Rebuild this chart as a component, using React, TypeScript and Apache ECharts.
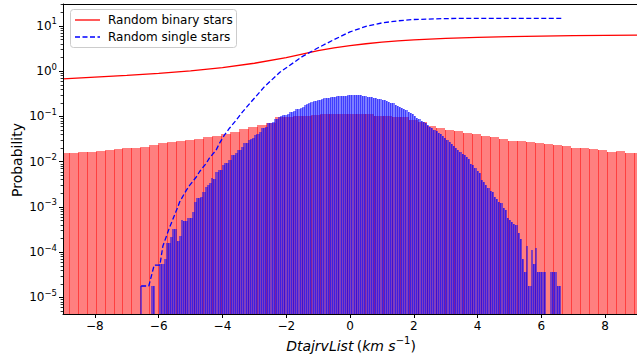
import React, { useEffect, useRef } from 'react';
import * as echarts from 'echarts';

// ---------- data ----------
const X_TICKS = [-8, -6, -4, -2, 0, 2, 4, 6, 8];
const Y_EXPONENTS = [-5, -4, -3, -2, -1, 0, 1];

// red histogram (random binary stars), density per bin
const RED_START = -9.103;
const RED_WIDTH = 0.2812;
const RED_DENSITY = [
  0.0152, 0.0155, 0.0160, 0.0166, 0.0174, 0.0180, 0.0190, 0.0197, 0.0203, 0.0213,
  0.0229, 0.0254, 0.0267, 0.0281, 0.0300, 0.0316, 0.0344, 0.0367, 0.0413, 0.0457,
  0.0516, 0.0571, 0.0633, 0.072, 0.095, 0.0966, 0.100, 0.103, 0.107, 0.111,
  0.116, 0.116, 0.116, 0.112, 0.112, 0.103, 0.103, 0.095, 0.095, 0.083,
  0.076, 0.062, 0.056, 0.050, 0.047, 0.0435, 0.040, 0.0373, 0.0348, 0.0321,
  0.0290, 0.0280, 0.0272, 0.0259, 0.0241, 0.0229, 0.0218, 0.0203, 0.0197, 0.0190,
  0.0180, 0.0168, 0.0174, 0.0155, 0.0157,
];

// blue histogram (random single stars), density per bin
const BLUE_START = -6.59;
const BLUE_WIDTH = 0.0677;
const BLUE_DENSITY = [
  1.8e-5, 0, 0, 0, 0, 1.8e-5, 1.8e-5, 0, 0, 5.4e-5,
  5.4e-5, 7.2e-5, 1.6e-4, 1.6e-4, 2.2e-4, 3.2e-4, 3.2e-4, 1.8e-4, 2.3e-4, 5.1e-4,
  4.9e-4, 4.9e-4, 5.8e-4, 5.8e-4, 7.8e-4, 1.3e-3, 1.55e-3, 1.55e-3, 1.68e-3, 2.17e-3,
  2.79e-3, 3.0e-3, 3.32e-3, 4.28e-3, 4.07e-3, 5.98e-3, 6.53e-3, 6.53e-3, 8.4e-3, 9.2e-3,
  9.2e-3, 0.0108, 0.0140, 0.0140, 0.0152, 0.0180, 0.0180, 0.0213, 0.0254, 0.0254,
  0.0300, 0.0320, 0.0337, 0.0387, 0.0400, 0.0457, 0.0543, 0.0543, 0.0589, 0.070,
  0.070, 0.076, 0.090, 0.090, 0.098, 0.103, 0.107, 0.110, 0.115, 0.123,
  0.128, 0.133, 0.145, 0.150, 0.155, 0.165, 0.175, 0.187, 0.195, 0.204,
  0.218, 0.222, 0.229, 0.235, 0.241, 0.250, 0.258, 0.262, 0.271, 0.271,
  0.275, 0.285, 0.285, 0.288, 0.288, 0.290, 0.292, 0.295, 0.295, 0.295,
  0.294, 0.294, 0.292, 0.285, 0.280, 0.268, 0.263, 0.263, 0.255, 0.250,
  0.245, 0.241, 0.232, 0.229, 0.215, 0.210, 0.198, 0.194, 0.180, 0.170,
  0.163, 0.152, 0.145, 0.138, 0.128, 0.118, 0.111, 0.100, 0.092, 0.088,
  0.080, 0.074, 0.070, 0.064, 0.060, 0.056, 0.051, 0.048, 0.044, 0.040,
  0.037, 0.034, 0.030, 0.027, 0.025, 0.022, 0.020, 0.018, 0.0165, 0.0146,
  0.0138, 0.0130, 0.0114, 0.0090, 0.0084, 0.0072, 0.0063, 0.0056, 0.0040, 0.0036,
  0.0031, 0.0026, 0.0022, 0.0021, 0.0017, 0.0015, 0.0013, 0.0012, 0.00095, 0.00087,
  0.00056, 0.00052, 0.00047, 0.00042, 0.00040, 0.00027, 0.00020, 7.2e-5, 3.6e-5, 1.4e-4,
  1.8e-5, 1.1e-4, 5.4e-5, 1.26e-4, 3.6e-5, 3.6e-5, 3.6e-5, 3.6e-5, 0, 0,
  3.6e-5, 3.6e-5, 3.6e-5, 1.8e-5, 1.8e-5, 0,
];

// red solid line
const RED_LINE_X = [-9, -8, -7, -6, -5, -4, -3, -2, -1.5, -1, -0.5, 0, 0.5, 1, 1.5, 2, 3, 4, 5, 6, 7, 8, 9];
const RED_LINE_Y = [0.68, 0.74, 0.81, 0.90, 1.02, 1.2, 1.5, 2.0, 2.4, 2.85, 3.3, 3.7, 4.05, 4.4, 4.7, 4.95, 5.3, 5.6, 5.8, 5.95, 6.1, 6.2, 6.3];

// blue dashed line
const BLUE_LINE_X = [
  -6.55, -6.31, -6.14, -5.96, -5.87, -5.66, -5.40, -5.34, -5.13, -5.03,
  -4.82, -4.72, -4.51, -4.41, -4.20, -4.09, -3.94, -3.78, -3.57, -3.37,
  -3.10, -2.69, -2.2, -1.5, -1.0, -0.5, 0, 0.5, 1.0, 1.5,
  2.0, 3.0, 4.0, 5.0, 6.68,
];
const BLUE_LINE_Y = [
  1.79e-5, 1.79e-5, 5.2e-5, 5.2e-5, 1.35e-4, 3.5e-4, 1.0e-3, 1.3e-3, 2.36e-3, 3.0e-3,
  4.6e-3, 6.0e-3, 9.2e-3, 0.012, 0.018, 0.0257, 0.0387, 0.055, 0.083, 0.126,
  0.21, 0.45, 0.95, 2.1, 3.3, 5.0, 7.4, 9.8, 11.7, 13.0,
  13.9, 14.6, 14.8, 14.8, 14.8,
];

// ---------- layout ----------
const Y_MIN_LOG = -5.366;
const Y_MAX_LOG = 1.486;
const FONT = 'DejaVu Sans';

const MINOR_TICKS: number[] = [];
for (let e = -6; e <= 1; e++) {
  for (let k = 2; k <= 9; k++) {
    const lv = e + Math.log10(k);
    if (lv > Y_MIN_LOG && lv < Y_MAX_LOG) MINOR_TICKS.push(lv);
  }
}

function histData(start: number, width: number, vals: number[]) {
  const out: number[][] = [];
  vals.forEach((v, i) => {
    if (v > 0) {
      const prev = i > 0 ? vals[i - 1] : 0;
      out.push([
        start + i * width,
        start + (i + 1) * width,
        Math.log10(v),
        prev > 0 ? Math.log10(Math.min(prev, v)) : -99,
      ]);
    }
  });
  return out;
}

function makeRender(fill: string) {
  return (params: any, api: any) => {
    const cs = params.coordSys;
    const x0 = api.value(0);
    const x1 = api.value(1);
    const ly = api.value(2);
    const ls = api.value(3);
    const a = api.coord([x0, ly]);
    const b = api.coord([x1, ly]);
    const left = Math.round(a[0]);
    const right = Math.round(b[0]);
    const gl = cs.x;
    const gr = cs.x + cs.width;
    const cl = Math.max(left, gl);
    const cr = Math.min(right, gr);
    if (cr <= cl) return null;
    const top = Math.round(a[1]);
    const bottom = cs.y + cs.height;
    const children: any[] = [
      { type: 'rect', shape: { x: cl, y: top, width: cr - cl, height: bottom - top }, style: { fill } },
    ];
    if (ls > -50 && left >= gl) {
      const st = Math.round(api.coord([x0, ls])[1]);
      children.push({ type: 'rect', shape: { x: left, y: st, width: 1, height: bottom - st }, style: { fill } });
    }
    return { type: 'group', children };
  };
}

const supRich = {
  b: { fontSize: 12, fontFamily: FONT, color: '#000', lineHeight: 12, verticalAlign: 'bottom' },
  s: { fontSize: 8.5, fontFamily: FONT, color: '#000', lineHeight: 9, padding: [0, 0, 6, 0], verticalAlign: 'bottom' },
};

export default function App() {
  const ref = useRef<HTMLDivElement>(null);
  useEffect(() => {
    if (!ref.current) return;
    const chart = echarts.init(ref.current, undefined, { renderer: 'svg' });
    const option: any = {
      animation: false,
      backgroundColor: '#fff',
      grid: { left: 63, top: 4, width: 576, height: 310, containLabel: false },
      xAxis: [
        {
          type: 'value', min: -9, max: 9, z: 10,
          axisLine: { show: true, onZero: false, lineStyle: { color: '#000', width: 1 } },
          axisTick: { show: true, customValues: X_TICKS, length: 4, lineStyle: { color: '#000', width: 1 } },
          axisLabel: {
            customValues: X_TICKS, color: '#000', fontSize: 12, fontFamily: FONT, margin: 6,
            formatter: (v: number) => (v < 0 ? '\u2212' + Math.abs(v) : String(v)),
          },
          splitLine: { show: false },
        },
        {
          type: 'value', min: -9, max: 9, position: 'top', z: 10,
          axisLine: { show: true, onZero: false, lineStyle: { color: '#000', width: 1 } },
          axisTick: { show: false }, axisLabel: { show: false }, splitLine: { show: false },
        },
      ],
      yAxis: [
        {
          type: 'value', min: Y_MIN_LOG, max: Y_MAX_LOG, z: 10, position: 'left',
          axisLine: { show: true, onZero: false, lineStyle: { color: '#000', width: 1 } },
          axisTick: { show: true, customValues: Y_EXPONENTS, length: 4, lineStyle: { color: '#000', width: 1 } },
          axisLabel: {
            customValues: Y_EXPONENTS, margin: 6,
            formatter: (v: number) => '{b|10}{s|' + (v < 0 ? '\u2212' : '') + Math.abs(Math.round(v)) + '}',
            rich: supRich,
          },
          splitLine: { show: false },
        },
        {
          type: 'value', min: Y_MIN_LOG, max: Y_MAX_LOG, z: 10, position: 'left',
          axisLine: { show: false, onZero: false },
          axisTick: { show: true, customValues: MINOR_TICKS, length: 2.4, lineStyle: { color: '#000', width: 0.8 } },
          axisLabel: { show: false }, splitLine: { show: false },
        },
      ],
      series: [
        {
          type: 'custom', name: 'red-hist', xAxisIndex: 0, yAxisIndex: 0,
          renderItem: makeRender('rgba(255,0,0,0.5)'),
          data: histData(RED_START, RED_WIDTH, RED_DENSITY),
          encode: { x: [0, 1], y: 2 }, clip: false, silent: true, z: 1,
        },
        {
          type: 'custom', name: 'blue-hist', xAxisIndex: 0, yAxisIndex: 0,
          renderItem: makeRender('rgba(0,0,255,0.5)'),
          data: histData(BLUE_START, BLUE_WIDTH, BLUE_DENSITY),
          encode: { x: [0, 1], y: 2 }, clip: false, silent: true, z: 2,
        },
        {
          type: 'line', name: 'Random binary stars', xAxisIndex: 0, yAxisIndex: 0,
          data: RED_LINE_X.map((x, i) => [x, Math.log10(RED_LINE_Y[i])]),
          showSymbol: false, smooth: false,
          lineStyle: { color: '#ff0000', width: 1.3 }, z: 3, silent: true,
        },
        {
          type: 'line', name: 'Random single stars', xAxisIndex: 0, yAxisIndex: 0,
          data: BLUE_LINE_X.map((x, i) => [x, Math.log10(BLUE_LINE_Y[i])]),
          showSymbol: false,
          lineStyle: { color: '#0000ff', width: 1.3, type: [5, 2.5] }, z: 4, silent: true,
        },
      ],
      graphic: [
        {
          type: 'text', x: 17, y: 160, rotation: Math.PI / 2, z: 20,
          style: { text: 'Probability', fontSize: 14, fontFamily: FONT, fill: '#000', textAlign: 'center', textVerticalAlign: 'middle' },
        },
        {
          type: 'text', x: 351, y: 345, z: 20,
          style: {
            text: '{i|DtajrvList} {n|(}{i|km s}{s|\u22121}{n|)}',
            textAlign: 'center', textVerticalAlign: 'middle',
            rich: {
              i: { fontSize: 14, fontFamily: FONT, fontStyle: 'italic', fill: '#000', lineHeight: 16, verticalAlign: 'bottom' },
              n: { fontSize: 14, fontFamily: FONT, fill: '#000', lineHeight: 16, verticalAlign: 'bottom' },
              s: { fontSize: 10, fontFamily: FONT, fill: '#000', lineHeight: 10, padding: [0, 0, 8, 0], verticalAlign: 'bottom' },
            },
          },
        },
        {
          type: 'group', z: 30,
          children: [
            { type: 'rect', shape: { x: 70.5, y: 9.5, width: 166, height: 38, r: 3 }, style: { fill: 'rgba(255,255,255,0.8)', stroke: '#cccccc', lineWidth: 1 } },
            { type: 'line', shape: { x1: 75, y1: 20, x2: 100, y2: 20 }, style: { stroke: '#ff0000', lineWidth: 1.3 } },
            { type: 'text', x: 108, y: 20, style: { text: 'Random binary stars', fontSize: 12, fontFamily: FONT, fill: '#000', textVerticalAlign: 'middle' } },
            { type: 'line', shape: { x1: 75, y1: 37, x2: 100, y2: 37 }, style: { stroke: '#0000ff', lineWidth: 1.3, lineDash: [5, 2.5] } },
            { type: 'text', x: 108, y: 37, style: { text: 'Random single stars', fontSize: 12, fontFamily: FONT, fill: '#000', textVerticalAlign: 'middle' } },
          ],
        },
      ],
    };
    chart.setOption(option);
    return () => chart.dispose();
  }, []);
  return <div ref={ref} style={{ position: 'fixed', left: 0, top: 0, width: 637, height: 363 }} />;
}
